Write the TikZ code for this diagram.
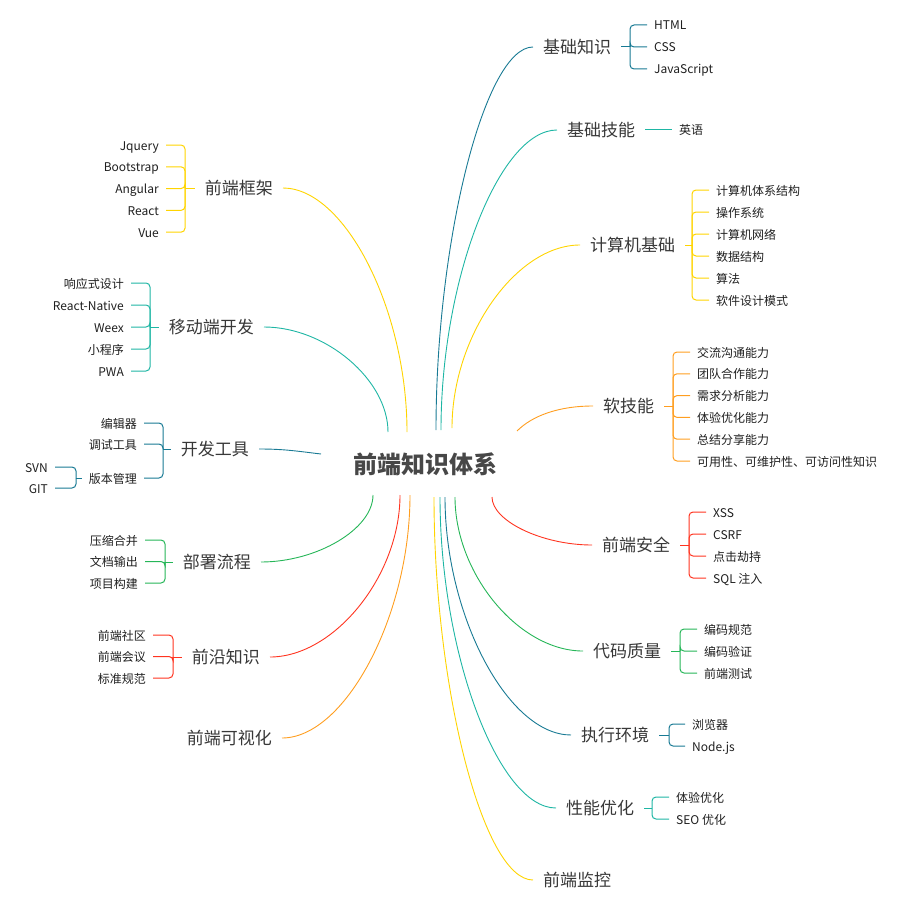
\documentclass[tikz,border=0pt]{standalone}
\usepackage{fontspec}
\setmainfont{Noto Sans CJK SC}
\usetikzlibrary{calc}
\definecolor{mapdeep}{RGB}{24,122,148}
\definecolor{mapteal}{RGB}{30,182,164}
\definecolor{mapyellow}{RGB}{255,212,0}
\definecolor{maporange}{RGB}{255,158,32}
\definecolor{mapred}{RGB}{255,52,32}
\definecolor{mapgreen}{RGB}{38,182,88}

\begin{document}
\begin{tikzpicture}[x=1pt, y=-1pt,
    root/.style={font=\fontsize{24}{28}\selectfont\bfseries, text=black!72, inner sep=6pt},
    topic/.style={font=\fontsize{17}{20}\selectfont, text=black!78, inner xsep=10pt, inner ysep=3pt},
    leaf/.style={font=\fontsize{12}{14}\selectfont, text=black!88, inner xsep=7pt, inner ysep=2pt,
                 text height=10.5pt, text depth=0.5pt},
    branch/.style={line width=0.9pt},
    brace/.style={line width=1pt, rounded corners=4pt}]
  \useasboundingbox (0,0) rectangle (903,915);
  % centre
  \node[root] (root) at (425,464) {前端知识体系};
  \coordinate (r1) at (436,430);  \coordinate (r2) at (441,430);
  \coordinate (r3) at (452,428);  \coordinate (r4) at (517,431);
  \coordinate (r5) at (492,497);  \coordinate (r6) at (455,497);
  \coordinate (r7) at (445,497);  \coordinate (r8) at (440,497);
  \coordinate (r9) at (434,497);  \coordinate (l1) at (407,432);
  \coordinate (l2) at (388,432);  \coordinate (l3) at (321,454);
  \coordinate (l4) at (373,495);  \coordinate (l5) at (400,495);
  \coordinate (l6) at (410,495);

  % right: 基础知识
  \node[topic, anchor=west] (jczs) at (533,47) {基础知识};
  \draw[branch, mapdeep] (r1) .. controls +(0,-190) and +(-48,0) .. (jczs.west);
  \draw[brace, mapdeep] (jczs.east) -- (630,47);
  \foreach \t [count=\i] in {HTML, CSS, JavaScript} {
    \node[leaf, anchor=west] (jczs\i) at (647,{25+22*(\i-1)}) {\t};
    \draw[brace, mapdeep] (630,47) |- (jczs\i.west);
  }
  % right: 基础技能
  \node[topic, anchor=west] (jcjn) at (557,130) {基础技能};
  \draw[branch, mapteal] (r2) .. controls +(0,-150) and +(-58,0) .. (jcjn.west);
  \node[leaf, anchor=west] (jcjn1) at (672,130) {英语};
  \draw[brace, mapteal] (jcjn.east) -- (jcjn1.west);
  % right: 计算机基础
  \node[topic, anchor=west] (jsj) at (580,245) {计算机基础};
  \draw[branch, mapyellow] (r3) .. controls +(0,-92) and +(-64,0) .. (jsj.west);
  \draw[brace, mapyellow] (jsj.east) -- (692,245);
  \foreach \t [count=\i] in {计算机体系结构, 操作系统, 计算机网络, 数据结构, 算法, 软件设计模式} {
    \node[leaf, anchor=west] (jsj\i) at (709,{190+22*(\i-1)}) {\t};
    \draw[brace, mapyellow] (692,245) |- (jsj\i.west);
  }
  % right: 软技能
  \node[topic, anchor=west] (rjn) at (593,406) {软技能};
  \draw[branch, maporange] (r4) .. controls +(15,-15) and +(-35,0) .. (rjn.west);
  \draw[brace, maporange] (rjn.east) -- (673,406);
  \foreach \t [count=\i] in {交流沟通能力, 团队合作能力, 需求分析能力, 体验优化能力, 总结分享能力,
      可用性、可维护性、可访问性知识} {
    \node[leaf, anchor=west] (rjn\i) at (690,{352+21.8*(\i-1)}) {\t};
    \draw[brace, maporange] (673,406) |- (rjn\i.west);
  }
  % right: 前端安全
  \node[topic, anchor=west] (qdaq) at (592,545) {前端安全};
  \draw[branch, mapred] (r5) .. controls +(0,24) and +(-50,0) .. (qdaq.west);
  \draw[brace, mapred] (qdaq.east) -- (689,545);
  \foreach \t [count=\i] in {XSS, CSRF, 点击劫持, SQL 注入} {
    \node[leaf, anchor=west] (qdaq\i) at (706,{512+22*(\i-1)}) {\t};
    \draw[brace, mapred] (689,545) |- (qdaq\i.west);
  }
  % right: 代码质量
  \node[topic, anchor=west] (dmzl) at (583,651) {代码质量};
  \draw[branch, mapgreen] (r6) .. controls +(0,77) and +(-64,0) .. (dmzl.west);
  \draw[brace, mapgreen] (dmzl.east) -- (680,651);
  \foreach \t [count=\i] in {编码规范, 编码验证, 前端测试} {
    \node[leaf, anchor=west] (dmzl\i) at (697,{629+22*(\i-1)}) {\t};
    \draw[brace, mapgreen] (680,651) |- (dmzl\i.west);
  }
  % right: 执行环境
  \node[topic, anchor=west] (zxhj) at (571,735) {执行环境};
  \draw[branch, mapdeep] (r7) .. controls +(0,119) and +(-63,0) .. (zxhj.west);
  \draw[brace, mapdeep] (zxhj.east) -- (669,735);
  \foreach \t [count=\i] in {浏览器, Node.js} {
    \node[leaf, anchor=west] (zxhj\i) at (685,{724+22*(\i-1)}) {\t};
    \draw[brace, mapdeep] (669,735) |- (zxhj\i.west);
  }
  % right: 性能优化
  \node[topic, anchor=west] (xnyh) at (556,808) {性能优化};
  \draw[branch, mapteal] (r8) .. controls +(0,155) and +(-58,0) .. (xnyh.west);
  \draw[brace, mapteal] (xnyh.east) -- (652,808);
  \foreach \t [count=\i] in {体验优化, SEO 优化} {
    \node[leaf, anchor=west] (xnyh\i) at (669,{797+22*(\i-1)}) {\t};
    \draw[brace, mapteal] (652,808) |- (xnyh\i.west);
  }
  % right: 前端监控
  \node[topic, anchor=west] (qdjk) at (533,880) {前端监控};
  \draw[branch, mapyellow] (r9) .. controls +(0,190) and +(-50,0) .. (qdjk.west);

  % left: 前端框架
  \node[topic, anchor=east] (qdkj) at (283,188) {前端框架};
  \draw[branch, mapyellow] (l1) .. controls +(0,-122) and +(62,0) .. (qdkj.east);
  \draw[brace, mapyellow] (qdkj.west) -- (185,188);
  \foreach \t [count=\i] in {Jquery, Bootstrap, Angular, React, Vue} {
    \node[leaf, anchor=east] (qdkj\i) at (166,{145+21.8*(\i-1)}) {\t};
    \draw[brace, mapyellow] (185,188) |- (qdkj\i.east);
  }
  % left: 移动端开发
  \node[topic, anchor=east] (ydd) at (264,327) {移动端开发};
  \draw[branch, mapteal] (l2) .. controls +(0,-52) and +(62,0) .. (ydd.east);
  \draw[brace, mapteal] (ydd.west) -- (150,327);
  \foreach \t [count=\i] in {响应式设计, React-Native, Weex, 小程序, PWA} {
    \node[leaf, anchor=east] (ydd\i) at (131,{283+22*(\i-1)}) {\t};
    \draw[brace, mapteal] (150,327) |- (ydd\i.east);
  }
  % left: 开发工具
  \node[topic, anchor=east] (kfgj) at (259,449) {开发工具};
  \draw[branch, mapdeep] (l3) .. controls +(-25,-3) and +(25,0) .. (kfgj.east);
  \draw[brace, mapdeep] (kfgj.west) -- (163,449);
  \foreach \t/\y [count=\i] in {编辑器/423, 调试工具/444, 版本管理/478} {
    \node[leaf, anchor=east] (kfgj\i) at (144,\y) {\t};
    \draw[brace, mapdeep] (163,449) |- (kfgj\i.east);
  }
  \draw[brace, mapdeep] (kfgj3.west) -- (76,478);
  \foreach \t/\y [count=\i] in {SVN/467, GIT/488} {
    \node[leaf, anchor=east] (bbgl\i) at (55,\y) {\t};
    \draw[brace, mapdeep] (76,478) |- (bbgl\i.east);
  }
  % left: 部署流程
  \node[topic, anchor=east] (bslc) at (261,562) {部署流程};
  \draw[branch, mapgreen] (l4) .. controls +(0,34) and +(56,0) .. (bslc.east);
  \draw[brace, mapgreen] (bslc.west) -- (165,562);
  \foreach \t [count=\i] in {压缩合并, 文档输出, 项目构建} {
    \node[leaf, anchor=east] (bslc\i) at (145,{540+21.5*(\i-1)}) {\t};
    \draw[brace, mapgreen] (165,562) |- (bslc\i.east);
  }
  % left: 前沿知识
  \node[topic, anchor=east] (qyzs) at (270,657) {前沿知识};
  \draw[branch, mapred] (l5) .. controls +(0,81) and +(64,0) .. (qyzs.east);
  \draw[brace, mapred] (qyzs.west) -- (173,657);
  \foreach \t [count=\i] in {前端社区, 前端会议, 标准规范} {
    \node[leaf, anchor=east] (qyzs\i) at (153,{635+21.5*(\i-1)}) {\t};
    \draw[brace, mapred] (173,657) |- (qyzs\i.east);
  }
  % left: 前端可视化
  \node[topic, anchor=east] (qdksh) at (282,738) {前端可视化};
  \draw[branch, maporange] (l6) .. controls +(0,121) and +(63,0) .. (qdksh.east);
\end{tikzpicture}
\end{document}
